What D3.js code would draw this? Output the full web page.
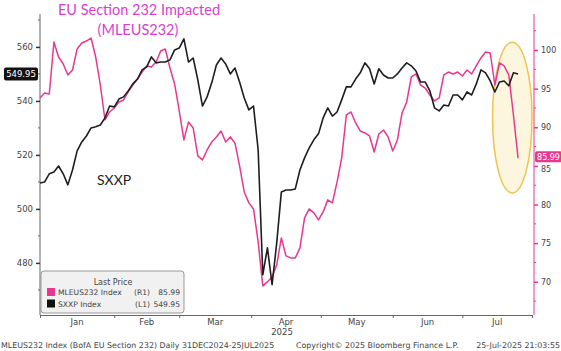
<!DOCTYPE html>
<html>
<head>
<meta charset="utf-8">
<script src="https://cdn.jsdelivr.net/npm/d3@7"></script>
<style>
body { margin: 0; background: #fff; }
svg text { font-family: "DejaVu Sans", sans-serif; }
</style>
</head>
<body>
<svg width="561" height="351"></svg>
<script>
// **** Data (one sample every two days) ****
var dates = [
  "2024-12-31",
  "2025-01-02","2025-01-04","2025-01-06","2025-01-08","2025-01-10","2025-01-12","2025-01-14","2025-01-16",
  "2025-01-18","2025-01-20","2025-01-22","2025-01-24","2025-01-26","2025-01-28","2025-01-30",
  "2025-02-01","2025-02-03","2025-02-05","2025-02-07","2025-02-09","2025-02-11","2025-02-13","2025-02-15",
  "2025-02-17","2025-02-19","2025-02-21","2025-02-23","2025-02-25","2025-02-27",
  "2025-03-01","2025-03-03","2025-03-05","2025-03-07","2025-03-09","2025-03-11","2025-03-13","2025-03-15",
  "2025-03-17","2025-03-19","2025-03-21","2025-03-23","2025-03-25","2025-03-27","2025-03-29","2025-03-31",
  "2025-04-02","2025-04-04","2025-04-06","2025-04-08","2025-04-10","2025-04-12","2025-04-14","2025-04-16",
  "2025-04-18","2025-04-20","2025-04-22","2025-04-24","2025-04-26","2025-04-28","2025-04-30",
  "2025-05-02","2025-05-04","2025-05-06","2025-05-08","2025-05-10","2025-05-12","2025-05-14","2025-05-16",
  "2025-05-18","2025-05-20","2025-05-22","2025-05-24","2025-05-26","2025-05-28","2025-05-30",
  "2025-06-01","2025-06-03","2025-06-05","2025-06-07","2025-06-09","2025-06-11","2025-06-13","2025-06-15",
  "2025-06-17","2025-06-19","2025-06-21","2025-06-23","2025-06-25","2025-06-27","2025-06-29",
  "2025-07-01","2025-07-03","2025-07-05","2025-07-07","2025-07-09","2025-07-11","2025-07-13","2025-07-15",
  "2025-07-17","2025-07-19","2025-07-21","2025-07-23","2025-07-25"
];

// MLEUS232 Index, right axis
var mleus = [
  93.79, 94.44, 94.31, 101.03, 99.09, 98.19, 96.77, 97.41, 100.13, 100.91,
  101.16, 101.55, 99.09, 95.47, 90.94, 91.98, 92.50, 93.27, 93.53, 94.57,
  95.47, 96.25, 97.15, 97.93, 97.80, 98.45, 99.87, 100.13, 97.67, 95.60,
  92.11, 88.36, 90.69, 89.91, 86.29, 85.77, 87.06, 88.10, 88.75, 89.52,
  88.10, 88.75, 87.97, 84.99, 81.63, 80.21, 79.43, 75.16, 69.47, 69.99,
  70.63, 72.19, 75.68, 73.35, 73.09, 73.09, 74.39, 78.27, 79.43, 78.91,
  78.01, 79.04, 80.60, 80.21, 82.92, 86.03, 91.59, 91.98, 90.56, 89.52,
  89.26, 88.87, 86.80, 89.13, 89.65, 88.75, 86.93, 88.36, 91.85, 93.27,
  96.51, 96.90, 95.47, 95.08, 94.18, 93.40, 93.79, 96.77, 97.15, 96.90,
  97.15, 96.64, 97.41, 96.90, 97.93, 98.97, 99.74, 99.61, 95.47, 98.32,
  97.93, 96.77, 91.59, 85.99
];

// SXXP Index, left axis
var sxxp = [
  509.6, 510.0, 513.0, 513.7, 515.9, 513.0, 508.9, 514.4, 521.5, 524.8,
  527.0, 530.0, 530.4, 531.1, 533.7, 538.1, 537.8, 540.7, 541.5, 543.7,
  546.3, 548.1, 551.5, 552.6, 556.3, 554.1, 554.4, 554.4, 555.2, 558.9,
  559.6, 563.0, 554.4, 555.9, 547.8, 538.1, 541.5, 546.7, 553.3, 555.9,
  553.7, 550.0, 552.2, 547.0, 541.1, 536.7, 538.1, 521.9, 475.6, 485.6,
  471.9, 487.4, 506.3, 507.0, 507.0, 507.4, 514.4, 518.9, 522.6, 525.6,
  527.8, 533.7, 537.4, 534.4, 535.9, 540.4, 545.2, 545.2, 548.1, 550.4,
  554.1, 551.9, 546.3, 551.9, 549.6, 548.5, 548.5, 550.0, 552.2, 554.1,
  553.0, 551.1, 547.0, 547.0, 543.7, 537.4, 536.3, 538.5, 538.1, 542.2,
  542.2, 540.4, 543.3, 542.2, 546.3, 551.5, 550.4, 547.4, 543.3, 547.0,
  547.4, 545.6, 550.4, 549.95
];

var leftTicks = [480, 500, 520, 540, 560];
var leftMinor = [470, 490, 510, 530, 550, 570];
var rightTicks = [70, 75, 80, 85, 90, 95, 100];
var rightMinor = [67.5, 72.5, 77.5, 82.5, 87.5, 92.5, 97.5, 102.5];
var monthBounds = ["2024-12-31","2025-02-01","2025-03-01","2025-04-01","2025-05-01","2025-06-01","2025-07-01","2025-07-31"];
var monthNames = ["Jan","Feb","Mar","Apr","May","Jun","Jul"];
var lastMleus = 85.99, lastSxxp = 549.95;
var circleDates = ["2025-07-14", "2025-07-31"];   // highlighted period
var circleValues = [81.5, 101.0];                 // on the right axis

var pink = "#e9378f", titlePink = "#d83fd0", axisGrey = "#666", textGrey = "#444";

var parseDate = d3.timeParse("%Y-%m-%d");
var dayList = dates.map(parseDate);
var bounds = monthBounds.map(parseDate);

// **** Scales ****
var x = d3.scaleTime().domain([bounds[0], bounds[bounds.length - 1]]).range([40, 532]);
var yL = d3.scaleLinear().domain([460.7, 572.2]).range([315, 14]);
var yR = d3.scaleLinear().domain([65.7, 104.66]).range([315, 14]);

var svg = d3.select("svg");

// highlight ellipse (behind the lines)
var cx0 = x(parseDate(circleDates[0])), cx1 = x(parseDate(circleDates[1]));
var cy0 = yR(circleValues[1]), cy1 = yR(circleValues[0]);
svg.append("ellipse")
    .attr("cx", (cx0 + cx1) / 2).attr("cy", (cy0 + cy1) / 2)
    .attr("rx", (cx1 - cx0) / 2).attr("ry", (cy1 - cy0) / 2)
    .attr("fill", "#fbeec2").attr("fill-opacity", 0.55)
    .attr("stroke", "#f0c24e").attr("stroke-width", 1.5);

// **** Axes ****
// left
var gL = svg.append("g").attr("transform", "translate(40,0)")
    .call(d3.axisLeft(yL).tickValues(leftTicks).tickSize(4).tickPadding(3));
gL.select(".domain").attr("stroke", axisGrey).attr("d", "M0,14V315");
gL.selectAll(".tick line").attr("stroke", "#333").attr("stroke-width", 1.5);
gL.selectAll(".tick text").attr("fill", textGrey).style("font-size", "8.5px");
gL.selectAll(".minor").data(leftMinor).enter().append("line").attr("class", "minor")
    .attr("x1", -2).attr("x2", 0).attr("y1", yL).attr("y2", yL).attr("stroke", axisGrey);

// right
var gR = svg.append("g").attr("transform", "translate(534,0)")
    .call(d3.axisRight(yR).tickValues(rightTicks).tickSize(4).tickPadding(3));
gR.select(".domain").attr("stroke", pink).attr("d", "M0,14V315");
gR.selectAll(".tick line").attr("stroke", pink).attr("stroke-width", 1.5);
// the 85 label sits just under the last-value tag, as in the original
gR.selectAll(".tick text").attr("fill", textGrey).style("font-size", "8px")
    .attr("dy", function(d) { return d === 85 ? "0.75em" : "0.32em"; });
gR.selectAll(".minor").data(rightMinor).enter().append("line").attr("class", "minor")
    .attr("x1", 0).attr("x2", 2).attr("y1", yR).attr("y2", yR).attr("stroke", pink);

// bottom
var gX = svg.append("g").attr("transform", "translate(0,315)")
    .call(d3.axisBottom(x).tickValues(bounds).tickSize(3).tickFormat(""));
gX.select(".domain").attr("stroke", axisGrey);
gX.selectAll(".tick line").attr("stroke", axisGrey);

svg.selectAll(".month").data(monthNames).enter().append("text").attr("class", "month")
    .attr("x", function(d, i) { return (x(bounds[i]) + x(bounds[i + 1])) / 2; })
    .attr("y", 325).attr("text-anchor", "middle")
    .attr("fill", textGrey).style("font-size", "8.5px")
    .text(function(d) { return d; });
svg.append("text")
    .attr("x", (x(bounds[3]) + x(bounds[4])) / 2 - 4).attr("y", 335)
    .attr("text-anchor", "middle").attr("fill", textGrey).style("font-size", "8.5px")
    .text("2025");

// **** Lines ****
var pinkLine = d3.line().x(function(d, i) { return x(dayList[i]); }).y(function(d) { return yR(d); });
var blackLine = d3.line().x(function(d, i) { return x(dayList[i]); }).y(function(d) { return yL(d); });

svg.append("path").datum(mleus).attr("d", pinkLine)
    .attr("fill", "none").attr("stroke", pink).attr("stroke-width", 1.5).attr("stroke-linejoin", "round");
svg.append("path").datum(sxxp).attr("d", blackLine)
    .attr("fill", "none").attr("stroke", "#1e1e1e").attr("stroke-width", 1.6).attr("stroke-linejoin", "round");

// **** Last value tags ****
var tagL = svg.append("g").attr("transform", "translate(0," + yL(lastSxxp) + ")");
tagL.append("rect").attr("x", 4).attr("y", -6.5).attr("width", 34).attr("height", 13).attr("rx", 2).attr("fill", "#111");
tagL.append("text").attr("x", 21).attr("y", 3).attr("text-anchor", "middle")
    .attr("fill", "#fff").style("font-size", "8.5px").text(d3.format(".2f")(lastSxxp));

var tagR = svg.append("g").attr("transform", "translate(0," + (yR(lastMleus) - 1.5) + ")");
tagR.append("rect").attr("x", 535).attr("y", -5.5).attr("width", 27).attr("height", 11).attr("rx", 2).attr("fill", pink);
tagR.append("text").attr("x", 548.5).attr("y", 3).attr("text-anchor", "middle")
    .attr("fill", "#fff").style("font-size", "8px").text(d3.format(".2f")(lastMleus));

// **** Titles and labels ****
svg.append("text").attr("x", 139).attr("y", 15).attr("text-anchor", "middle")
    .attr("fill", titlePink).style("font-family", "Lato, sans-serif").style("font-size", "14.5px")
    .text("EU Section 232 Impacted");
svg.append("text").attr("x", 138).attr("y", 35).attr("text-anchor", "middle")
    .attr("fill", titlePink).style("font-family", "Lato, sans-serif").style("font-size", "14.5px")
    .text("(MLEUS232)");
svg.append("text").attr("x", 97).attr("y", 185)
    .attr("fill", "#222").style("font-family", "Lato, sans-serif").style("font-size", "14px")
    .text("SXXP");

// **** Legend ****
var lg = svg.append("g");
lg.append("rect").attr("x", 41).attr("y", 271).attr("width", 143).attr("height", 42).attr("rx", 3)
    .attr("fill", "#f1f1f1").attr("stroke", "#999");
lg.append("text").attr("x", 113).attr("y", 285).attr("text-anchor", "middle")
    .attr("fill", textGrey).style("font-size", "8px").text("Last Price");
var rows = [
  { color: pink, name: "MLEUS232 Index", axis: "(R1)", value: lastMleus },
  { color: "#111", name: "SXXP Index", axis: "(L1)", value: lastSxxp }
];
rows.forEach(function(r, i) {
  var yy = 292 + i * 11.5;
  lg.append("rect").attr("x", 47).attr("y", yy - 4).attr("width", 8).attr("height", 8).attr("fill", r.color);
  lg.append("text").attr("x", 58).attr("y", yy + 3).attr("fill", textGrey).style("font-size", "7.6px").text(r.name);
  lg.append("text").attr("x", 150).attr("y", yy + 3).attr("text-anchor", "end").attr("fill", textGrey).style("font-size", "7.6px").text(r.axis);
  lg.append("text").attr("x", 180).attr("y", yy + 3).attr("text-anchor", "end").attr("fill", textGrey).style("font-size", "7.6px").text(d3.format(".2f")(r.value));
});

// **** Footer ****
var foot = [
  { x: 1, anchor: "start", t: "MLEUS232 Index (BofA EU Section 232)  Daily 31DEC2024-25JUL2025" },
  { x: 296, anchor: "start", t: "Copyright\u00A9 2025 Bloomberg Finance L.P." },
  { x: 560, anchor: "end", t: "25-Jul-2025 21:03:55" }
];
svg.selectAll(".foot").data(foot).enter().append("text").attr("class", "foot")
    .attr("x", function(d) { return d.x; }).attr("y", 348)
    .attr("text-anchor", function(d) { return d.anchor; })
    .attr("fill", textGrey).style("font-size", "7.9px")
    .text(function(d) { return d.t; });
</script>
</body>
</html>
